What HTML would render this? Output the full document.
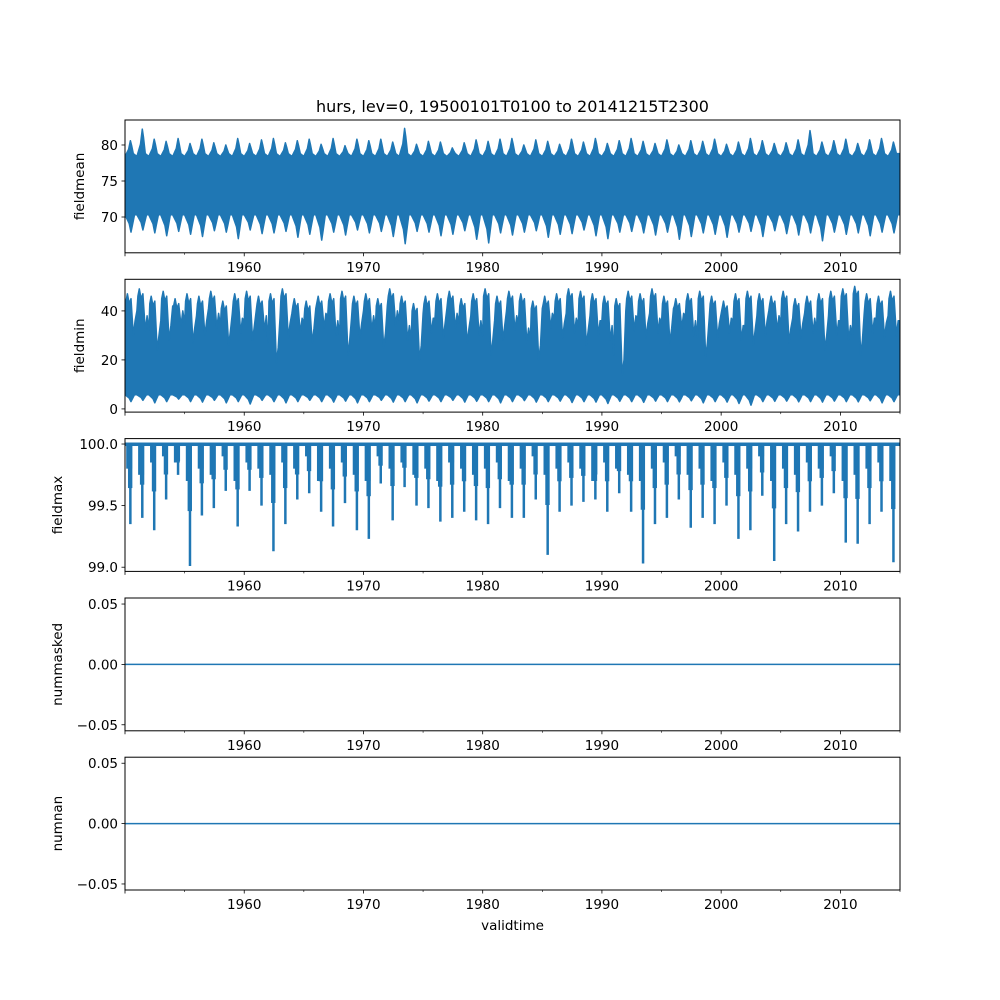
<!DOCTYPE html>
<html><head><meta charset="utf-8"><style>
html,body{margin:0;padding:0;background:#fff;}
svg{display:block;font-family:"DejaVu Sans","Liberation Sans",sans-serif;}
</style></head><body>
<svg id="fig" width="1000" height="1000" viewBox="0 0 1000 1000" xmlns="http://www.w3.org/2000/svg">
<rect x="0" y="0" width="1000" height="1000" fill="#fff"/>
<text x="512.5" y="112" font-size="16" text-anchor="middle">hurs, lev=0, 19500101T0100 to 20141215T2300</text>
<text x="512.5" y="930" font-size="13.5" text-anchor="middle">validtime</text>
</svg>
<script>
// ---- data ----
const years = [];
for (let y = 1950; y < 2015; y++) years.push(y);
const xTickLabels = ["1960","1970","1980","1990","2000","2010"];
const xTickYears = [1950,1960,1970,1980,1990,2000,2010];
const xMinorYears = [1955,1965,1975,1985,1995,2005,2015];

const meanHi = [80.6,82.2,80.8,80.5,80.9,80.2,80.8,80.3,80.0,80.9,80.2,80.7,80.9,80.3,80.6,80.8,80.1,80.9,79.9,80.8,80.6,80.8,80.4,82.3,80.1,80.5,80.4,79.6,80.3,80.7,80.5,80.8,80.9,80.0,80.7,80.5,80.1,80.8,80.4,80.9,80.2,80.6,80.9,80.5,80.2,80.7,80.0,80.6,80.5,80.8,80.1,80.4,80.9,80.6,80.2,80.3,80.7,82.0,80.4,80.6,80.8,80.2,80.7,80.9,80.4];
const meanLo = [67.9,68.2,67.8,67.4,68.0,67.6,67.3,68.1,67.9,67.0,68.2,67.7,67.8,68.0,67.2,67.6,66.8,67.9,67.5,68.2,67.8,68.0,67.3,66.3,68.0,67.9,67.4,67.6,68.1,66.9,66.4,67.8,67.5,67.9,68.1,67.2,67.6,67.7,68.2,67.4,67.0,67.9,68.0,67.8,67.5,67.9,66.9,67.3,67.8,67.6,67.2,67.9,68.0,67.3,68.1,67.7,67.5,67.8,66.7,67.9,67.6,67.8,67.4,67.9,67.8];
const meanHiBase = [78.4];
const meanLoBase = [70.3];

const minHi = [47,49,46,48,45,47,46,48,44,47,48,46,47,49,45,44,46,47,48,46,47,45,49,46,43,46,47,48,45,47,49,46,48,47,44,46,47,49,48,47,46,45,48,47,49,46,45,47,48,46,44,47,48,47,46,48,45,46,47,48,49,50,47,46,48];
const minTrough = [30,32,24,28,34,27,30,33,26,31,28,32,19,29,31,27,33,30,22,29,32,25,34,28,20,31,29,33,27,30,22,28,32,27,20,33,29,31,26,30,28,14,32,29,31,27,33,30,21,29,31,28,26,30,32,27,29,31,24,30,28,22,31,29,30];
const minLo = [3,3.5,2.5,3,4,3,2.8,3.5,2.5,3,2,3.5,3,2.5,3,3.5,3,2.8,3.2,2.5,3,3.5,2.8,3,2.5,3.2,3,3.5,2.8,3.1,3,2.5,3,3.4,2.8,3,3.2,2.6,3,2.8,2.2,3.1,3,2.7,3.2,3,2.9,3.3,2.5,3,2.8,2.2,1.5,3,3.1,3.2,2.9,3,2.8,3.2,3,2.9,3.3,2.5,3];
const minLoBase = [5.8];

const maxMin = [99.35,99.4,99.3,99.55,99.75,99.01,99.42,99.48,99.62,99.33,99.62,99.5,99.13,99.35,99.55,99.6,99.45,99.33,99.52,99.3,99.23,99.68,99.38,99.65,99.5,99.48,99.37,99.4,99.45,99.38,99.35,99.48,99.4,99.4,99.55,99.1,99.45,99.5,99.53,99.55,99.45,99.6,99.45,99.03,99.35,99.4,99.55,99.32,99.4,99.35,99.5,99.23,99.3,99.58,99.05,99.35,99.29,99.45,99.5,99.6,99.2,99.19,99.35,99.45,99.04];
const maxSecond = [99.8,99.75,99.85,99.9,99.85,99.7,99.8,99.75,99.9,99.7,99.85,99.8,99.75,99.85,99.8,99.9,99.7,99.8,99.85,99.75,99.7,99.9,99.8,99.85,99.75,99.8,99.7,99.85,99.8,99.75,99.8,99.85,99.7,99.8,99.9,99.75,99.8,99.85,99.8,99.7,99.85,99.8,99.75,99.7,99.8,99.85,99.9,99.75,99.8,99.7,99.85,99.75,99.8,99.9,99.7,99.8,99.75,99.85,99.8,99.9,99.7,99.75,99.8,99.85,99.7];

const zeroSeries = [0, 0];

const panels = [
  {name:"fieldmean", top:120, ymin:65.03, ymax:83.47, ticks:[70,75,80], labels:["70","75","80"], labx:84},
  {name:"fieldmin", top:279.3, ymin:-1.3, ymax:52.9, ticks:[0,20,40], labels:["0","20","40"], labx:84},
  {name:"fieldmax", top:438.6, ymin:98.966, ymax:100.044, ticks:[99.0,99.5,100.0], labels:["99.0","99.5","100.0"], labx:62},
  {name:"nummasked", top:598.0, ymin:-0.055, ymax:0.055, ticks:[-0.05,0,0.05], labels:["\u22120.05","0.00","0.05"], labx:62},
  {name:"numnan", top:757.2, ymin:-0.055, ymax:0.055, ticks:[-0.05,0,0.05], labels:["\u22120.05","0.00","0.05"], labx:62}
];

// ---- drawing ----
const NS = "http://www.w3.org/2000/svg";
const svg = document.getElementById("fig");
const L = 125, R = 900, H = 132.8, C = "#1f77b4";
const X0 = 1950, X1 = 2015.0;
function xs(v){ return L + (v - X0) / (X1 - X0) * (R - L); }
function mk(tag, attrs, parent){ const e = document.createElementNS(NS, tag); for (const k in attrs) e.setAttribute(k, attrs[k]); (parent||svg).appendChild(e); return e; }

panels.forEach((p, pi) => {
  const ys = v => p.top + (p.ymax - v) / (p.ymax - p.ymin) * H;
  const g = mk("g", {});
  
  
  const clipId = "clip" + pi;
  const cp = mk("clipPath", {id: clipId}, g);
  mk("rect", {x:L, y:p.top, width:R-L, height:H}, cp);
  const dg = mk("g", {"clip-path": "url(#" + clipId + ")"}, g);
  
  

  let d = "";
  if (pi === 0 || pi === 1) {
    const hi = pi === 0 ? meanHi : minHi;
    const lo = pi === 0 ? meanLo : minLo;
    const loBase = pi === 0 ? meanLoBase[0] : minLoBase[0];
    let up = [], dn = [];
    years.forEach((yr, i) => {
      if (pi === 0) {
        const b = meanHiBase[0];
        up.push([yr, b], [yr+0.3, b + (hi[i]-b)*0.45], [yr+0.45, hi[i]], [yr+0.55, b + (hi[i]-b)*0.7], [yr+0.7, b+0.4]);
      } else {
        up.push([yr, minTrough[i]+8], [yr+0.08, hi[i]-3], [yr+0.2, hi[i]], [yr+0.35, hi[i]-4], [yr+0.5, hi[i]-2], [yr+0.7, minTrough[i]], [yr+0.85, minTrough[i]+6]);
      }
      dn.push([yr, loBase], [yr+0.35, loBase - (loBase-lo[i])*0.5], [yr+0.5, lo[i]], [yr+0.62, loBase - (loBase-lo[i])*0.6], [yr+0.8, loBase]);
    });
    up.push([X1, up[up.length-1][1]]);
    dn.push([X1, loBase]);
    d = "M" + up.map(q => xs(q[0]).toFixed(1) + "," + ys(q[1]).toFixed(1)).join("L");
    d += "L" + dn.reverse().map(q => xs(q[0]).toFixed(1) + "," + ys(q[1]).toFixed(1)).join("L") + "Z";
    const path = mk("path", {d: d, fill: C, stroke: C, "stroke-width": 1.5, "stroke-linejoin": "round"}, dg);
    
    
  } else if (pi === 2) {
    const top = mk("rect", {x:L, y:ys(100.0)-1.5, width:R-L, height:3.5, fill:C}, dg);
    
    
    years.forEach((yr, i) => {
      const x1 = xs(yr + 0.1), x2 = xs(yr + 0.45), x3 = xs(yr + 0.6);
      const b = mk("rect", {x:x1, y:ys(100), width:x3-x1, height:ys(maxSecond[i])-ys(100), fill:C}, dg);
      
      
      const b2x = xs(yr + 0.25);
      const b2 = mk("rect", {x:b2x, y:ys(100), width:x2-b2x+2, height:(ys(maxMin[i])-ys(100))*0.55, fill:C}, dg);
      
      
      const s = mk("line", {x1:x2, x2:x2, y1:ys(100), y2:ys(maxMin[i]), stroke:C, "stroke-width":2.5}, dg);
      
      
    });
  } else {
    const ln = mk("line", {x1:xs(X0), x2:xs(X1), y1:ys(zeroSeries[0]), y2:ys(zeroSeries[1]), stroke:C, "stroke-width":1.5}, dg);
    
    
  }

  const frame = mk("rect", {x:L, y:p.top, width:R-L, height:H, fill:"none", stroke:"#000", "stroke-width":1}, g);
  
  

  p.ticks.forEach((t, i) => {
    const y = ys(t);
    mk("line", {x1:L-3.5, x2:L, y1:y, y2:y, stroke:"#000", "stroke-width":0.8}, g);
    const tx = mk("text", {x:L-7, y:y+5, "font-size":13.5, "text-anchor":"end"}, g);
    tx.textContent = p.labels[i];
    
    
  });
  const yl = mk("text", {x:p.labx, y:p.top+H/2, "font-size":13.5, "text-anchor":"middle", transform:"rotate(-90 " + p.labx + " " + (p.top+H/2) + ")"}, g);
  yl.textContent = p.name;
  
  

  const bot = p.top + H;
  xTickYears.forEach(yr => mk("line", {x1:xs(yr), x2:xs(yr), y1:bot, y2:bot+3.5, stroke:"#000", "stroke-width":0.8}, g));
  xMinorYears.forEach(yr => mk("line", {x1:xs(yr), x2:xs(yr), y1:bot, y2:bot+2, stroke:"#000", "stroke-width":0.6}, g));
  xTickLabels.forEach(lb => {
    const tx = mk("text", {x:xs(+lb), y:bot+19, "font-size":13.5, "text-anchor":"middle"}, g);
    tx.textContent = lb;
    
    
  });
});
</script>
</body></html>
